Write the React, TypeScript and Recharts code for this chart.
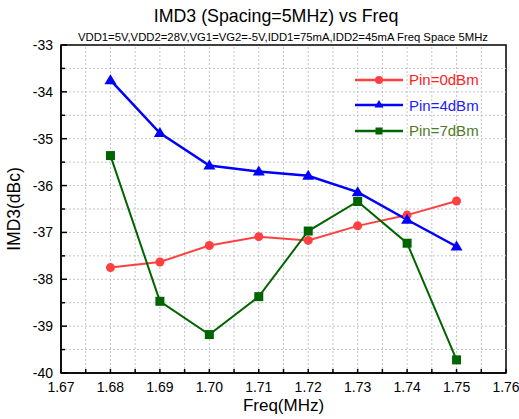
import React from 'react'
import { LineChart, Line, XAxis, YAxis, ReferenceLine, ReferenceArea, Legend } from 'recharts'

const freqs = [1.68, 1.69, 1.7, 1.71, 1.72, 1.73, 1.74, 1.75]
const pin0 = [-37.75, -37.63, -37.28, -37.09, -37.17, -36.86, -36.63, -36.33]
const pin4 = [-33.75, -34.88, -35.57, -35.7, -35.79, -36.14, -36.73, -37.3]
const pin7 = [-35.36, -38.47, -39.18, -38.37, -36.97, -36.34, -37.23, -39.72]

const xMajor = [1.67, 1.68, 1.69, 1.7, 1.71, 1.72, 1.73, 1.74, 1.75, 1.76]
const xMinor = [1.675, 1.685, 1.695, 1.705, 1.715, 1.725, 1.735, 1.745, 1.755]
const yMajor = [-40, -39, -38, -37, -36, -35, -34, -33]
const yMinor = [-39.5, -38.5, -37.5, -36.5, -35.5, -34.5, -33.5]

const data = freqs.map((f, i) => ({ f, p0: pin0[i], p4: pin4[i], p7: pin7[i] }))

const FONT = '"Liberation Sans", Arial, sans-serif'
const RED = '#ff4040'
const BLUE = '#0000ff'
const GREEN = '#006400'

const isMajor = (v: number, list: number[]) => list.some((m) => Math.abs(m - v) < 1e-6)

const XTick = (props: any) => {
  const { x, y, payload } = props
  const major = isMajor(payload.value, xMajor)
  return (
    <g>
      <line x1={x} y1={y} x2={x} y2={y - 4} stroke="#000" strokeWidth={1.5} />
      {major && (
        <text x={x} y={y + 19} textAnchor="middle" fontSize={14} fill="#000" fontFamily={FONT}>
          {payload.value.toFixed(2)}
        </text>
      )}
    </g>
  )
}

const YTick = (props: any) => {
  const { x, y, payload } = props
  const major = isMajor(payload.value, yMajor)
  return (
    <g>
      <line x1={x} y1={y} x2={x + (major ? 6 : 4)} y2={y} stroke="#000" strokeWidth={1.5} />
      {major && (
        <text x={x - 8} y={y + 5} textAnchor="end" fontSize={14} fill="#000" fontFamily={FONT}>
          {payload.value}
        </text>
      )}
    </g>
  )
}

const Circle = (props: any) => {
  const { cx, cy, index } = props
  return <circle key={index} cx={cx} cy={cy} r={4.5} fill={RED} />
}
const Triangle = (props: any) => {
  const { cx, cy, index } = props
  return <path key={index} d={`M${cx},${cy - 6}L${cx + 6},${cy + 4}L${cx - 6},${cy + 4}Z`} fill={BLUE} />
}
const Square = (props: any) => {
  const { cx, cy, index } = props
  return <rect key={index} x={cx - 4.5} y={cy - 4.5} width={9} height={9} fill={GREEN} />
}

const legendText: Record<string, string> = { p0: '#ff2020', p4: '#2020ff', p7: '#4f7a28' }

const LegendBox = (props: any) => {
  const { payload } = props
  return (
    <div style={{ fontFamily: FONT }}>
      {payload.map((e: any) => {
        const k = e.dataKey as string
        return (
          <div key={k} style={{ display: 'flex', alignItems: 'center', height: 25.5 }}>
            <svg width={54} height={12}>
              <line x1={0} y1={6} x2={48} y2={6} stroke={e.color} strokeWidth={2.5} />
              {k === 'p0' && <circle cx={24} cy={6} r={4} fill={e.color} />}
              {k === 'p4' && <path d="M24,1L28.5,8.5L19.5,8.5Z" fill={e.color} />}
              {k === 'p7' && <rect x={20.5} y={2.5} width={7} height={7} fill={e.color} />}
            </svg>
            <span style={{ color: legendText[k], fontSize: 15 }}>{e.value}</span>
          </div>
        )
      })}
    </div>
  )
}

export default function App() {
  return (
    <div style={{ position: 'absolute', left: 0, top: 0, width: 519, height: 419, background: '#fff', fontFamily: FONT }}>
      <div style={{ position: 'absolute', left: 0, width: 552, top: 6, textAlign: 'center', fontSize: 17.8 }}>
        IMD3 (Spacing=5MHz) vs Freq
      </div>
      <div style={{ position: 'absolute', left: 0, width: 566, top: 31, textAlign: 'center', fontSize: 11.3 }}>
        VDD1=5V,VDD2=28V,VG1=VG2=-5V,IDD1=75mA,IDD2=45mA Freq Space 5MHz
      </div>
      <div
        style={{
          position: 'absolute',
          left: 14,
          top: 209,
          transform: 'translate(-50%, -50%) rotate(-90deg)',
          fontSize: 17.5,
          whiteSpace: 'nowrap',
        }}
      >
        IMD3(dBc)
      </div>
      <div
        style={{
          position: 'absolute',
          left: 61,
          width: 445,
          top: 397,
          textAlign: 'center',
          fontSize: 17,
          lineHeight: '17px',
        }}
      >
        Freq(MHz)
      </div>
      <LineChart width={519} height={419} data={data} margin={{ top: 45, right: 13, bottom: 45, left: 60 }}>
        {xMajor.concat(xMinor).filter((v) => v > 1.671 && v < 1.759).map((v) => (
          <ReferenceLine key={'x' + v} x={v} stroke="#c4c4c4" strokeDasharray="2 2" strokeWidth={1} />
        ))}
        {yMajor.concat(yMinor).filter((v) => v > -39.9 && v < -33.1).map((v) => (
          <ReferenceLine key={'y' + v} y={v} stroke="#c4c4c4" strokeDasharray="2 2" strokeWidth={1} />
        ))}
        <XAxis
          dataKey="f"
          type="number"
          domain={[1.67, 1.76]}
          ticks={xMajor.concat(xMinor).sort((a, b) => a - b)}
          interval={0}
          height={1}
          tickSize={0}
          tickMargin={0}
          tickLine={false}
          tick={<XTick />}
          axisLine={{ stroke: '#000', strokeWidth: 1.5 }}
        />
        <YAxis
          type="number"
          domain={[-40, -33]}
          ticks={yMajor.concat(yMinor).sort((a, b) => a - b)}
          interval={0}
          width={1}
          tickSize={0}
          tickMargin={0}
          tickLine={false}
          tick={<YTick />}
          axisLine={{ stroke: '#000', strokeWidth: 1.5 }}
        />
        <ReferenceArea x1={1.67} x2={1.76} y1={-40} y2={-33} fill="none" stroke="#000" strokeWidth={1.5} />
        <Legend
          layout="vertical"
          align="center"
          verticalAlign="middle"
          content={<LegendBox />}
          wrapperStyle={{ position: 'absolute', left: 355, top: 67, width: 150 }}
        />
        <Line
          dataKey="p0"
          name="Pin=0dBm"
          stroke={RED}
          strokeWidth={2}
          dot={Circle}
          activeDot={false}
          isAnimationActive={false}
        />
        <Line
          dataKey="p4"
          name="Pin=4dBm"
          stroke={BLUE}
          strokeWidth={2.5}
          dot={Triangle}
          activeDot={false}
          isAnimationActive={false}
        />
        <Line
          dataKey="p7"
          name="Pin=7dBm"
          stroke={GREEN}
          strokeWidth={2}
          dot={Square}
          activeDot={false}
          isAnimationActive={false}
        />
      </LineChart>
    </div>
  )
}
